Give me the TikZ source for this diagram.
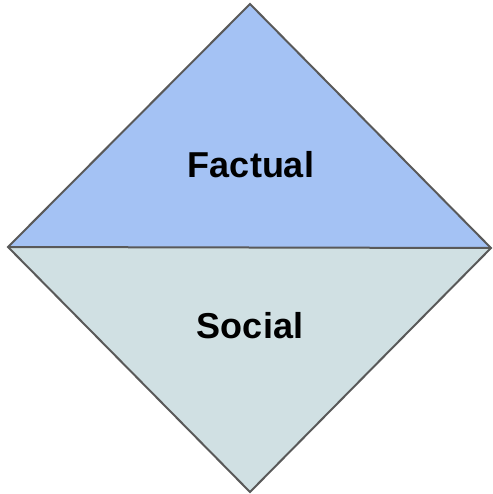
\documentclass[tikz,border=0pt]{standalone}
\usepackage{fontspec}
\newfontfamily\labelfont{Liberation Sans}
\definecolor{factblue}{HTML}{A4C2F4}
\definecolor{socialgray}{HTML}{D0E0E3}
\definecolor{edgegray}{HTML}{595959}

\begin{document}
\begin{tikzpicture}[x=1pt,y=-1pt]
\tikzset{
  edge/.style={draw=edgegray,line width=2pt},
  label/.style={font=\labelfont\bfseries\fontsize{36}{40}\selectfont,anchor=base}
}
\useasboundingbox (0,0) rectangle (492,494);
% corners of the diamond
\coordinate (top) at (250,4);
\coordinate (left) at (8,247);
\coordinate (right) at (491,248);
\coordinate (bottom) at (250,492);
% the two halves
\fill [factblue] (left) -- (top) -- (right) -- cycle;
\fill [socialgray] (left) -- (right) -- (bottom) -- cycle;
% outline and middle line
\draw [edge] (left) -- (top) -- (right) -- (bottom) -- cycle;
\draw [edge] (left) -- (right);
% labels
\node [label] (factual) at (251,178) {Factual};
\node [label] (social) at (250,338) {Social};
\end{tikzpicture}
\end{document}
